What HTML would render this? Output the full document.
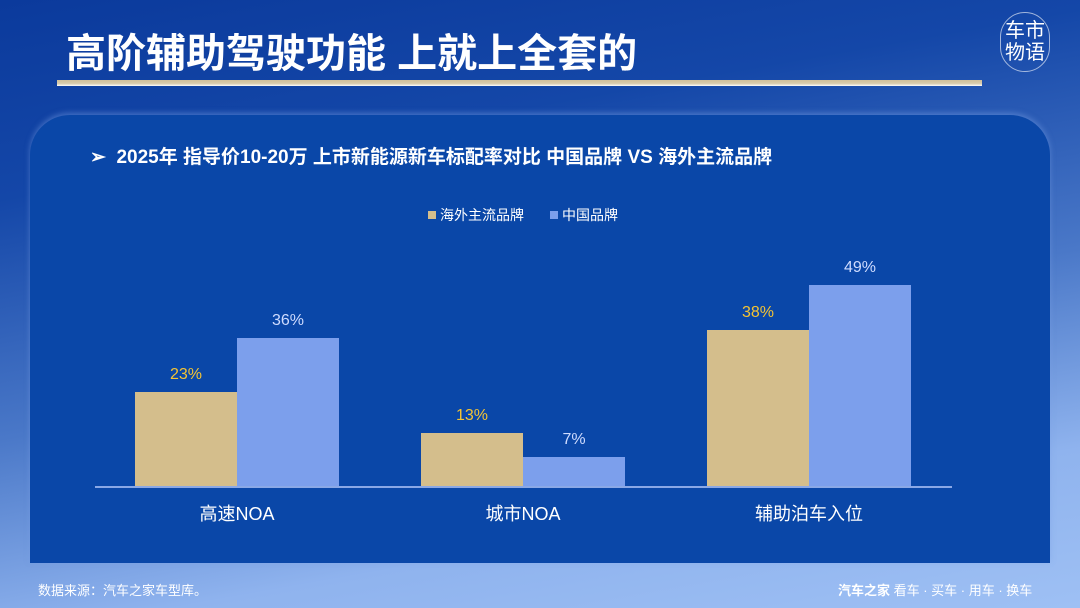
<!DOCTYPE html>
<html><head><meta charset="utf-8"><style>
*{margin:0;padding:0;box-sizing:border-box}
body{width:1080px;height:608px;overflow:hidden;position:relative;font-family:"Liberation Sans","Noto Sans CJK SC",sans-serif;
background:linear-gradient(170deg,#0b3a9c 0%,#1447a8 25%,#4a78c8 55%,#8fb3ee 80%,#9ec0f4 100%);}
.t{position:absolute;left:66px;top:21px;font-size:40px;font-weight:bold;color:#fff;letter-spacing:0px}
.line{position:absolute;left:57px;top:80px;width:925px;height:6px;background:linear-gradient(#cfbf9a,#d8ccae 60%,#fff)}
.logo{position:absolute;left:1000px;top:12px;width:50px;height:60px;border:1px solid rgba(255,255,255,.6);border-radius:25px;color:#fff;font-size:20px;line-height:22px;text-align:center;padding-top:7px}
.panel{position:absolute;left:30px;top:115px;width:1020px;height:448px;background:#0a47a8;border-radius:40px 40px 0 0;box-shadow:0 -2px 6px rgba(120,160,230,.5)}
.sub{position:absolute;left:90px;top:142px;font-size:19px;font-weight:bold;color:#fff}
.leg{position:absolute;top:205px;font-size:14px;color:#fff}
.sq{display:inline-block;width:8px;height:8px;margin-right:4px;vertical-align:1px}
.b{position:absolute;bottom:122px;width:102px}
.g{background:#d4be8c}.u{background:#7c9fec}
.v{position:absolute;font-size:16px;width:102px;text-align:center}
.vg{color:#f5c433}.vu{color:#cfdcff}
.ax{position:absolute;left:95px;top:486px;width:857px;height:2px;background:#8aa8e6}
.c{position:absolute;top:500px;font-size:18px;color:#fff;width:204px;text-align:center}
.f{position:absolute;top:580px;font-size:13px;color:#fff}
</style></head><body>
<div class="t">高阶辅助驾驶功能 上就上全套的</div>
<div class="line"></div>
<div class="logo">车市<br>物语</div>
<div class="panel"></div>
<div class="sub">➢&nbsp; 2025年 指导价10-20万 上市新能源新车标配率对比 中国品牌 VS 海外主流品牌</div>
<div class="leg" style="left:428px"><span class="sq g"></span>海外主流品牌</div>
<div class="leg" style="left:550px"><span class="sq u"></span>中国品牌</div>
<div class="b g" style="left:135px;top:392px"></div><div class="b u" style="left:237px;top:338px"></div>
<div class="b g" style="left:421px;top:433px"></div><div class="b u" style="left:523px;top:457px"></div>
<div class="b g" style="left:707px;top:330px"></div><div class="b u" style="left:809px;top:285px"></div>
<div class="v vg" style="left:135px;top:366px">23%</div><div class="v vu" style="left:237px;top:312px">36%</div>
<div class="v vg" style="left:421px;top:407px">13%</div><div class="v vu" style="left:523px;top:431px">7%</div>
<div class="v vg" style="left:707px;top:304px">38%</div><div class="v vu" style="left:809px;top:259px">49%</div>
<div class="ax"></div>
<div class="c" style="left:135px">高速NOA</div>
<div class="c" style="left:421px">城市NOA</div>
<div class="c" style="left:707px">辅助泊车入位</div>
<div class="f" style="left:38px">数据来源：汽车之家车型库。</div>
<div class="f" style="left:838px"><b>汽车之家</b> 看车 · 买车 · 用车 · 换车</div>
</body></html>
